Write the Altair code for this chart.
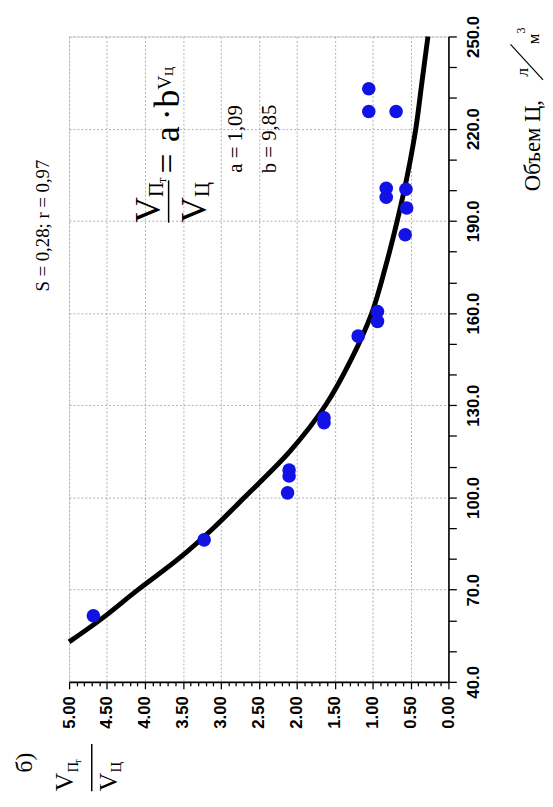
import altair as alt
import pandas as pd

# ---- data ----
pt_volume = [61.5, 86.2, 101.5, 107.0, 108.9, 124.3, 125.9, 152.5, 157.3, 160.5,
             185.5, 194.2, 197.7, 200.3, 200.6, 225.6, 225.6, 233.0]
pt_ratio = [4.68, 3.22, 2.12, 2.10, 2.10, 1.64, 1.64, 1.19, 0.935, 0.935,
            0.57, 0.55, 0.82, 0.56, 0.82, 0.69, 1.05, 1.05]

curve_volume = [53, 60, 70, 80, 90, 100, 115, 130, 145, 160, 175, 190, 205, 220, 235, 250]
curve_ratio = [5.0, 4.6, 4.09, 3.56, 3.10, 2.69, 2.09, 1.62, 1.28, 1.01, 0.83, 0.675,
               0.54, 0.43, 0.35, 0.27]

ratio_ticks = [round(i * 0.1, 1) for i in range(51)]
volume_ticks = list(range(40, 251, 10))

title_text = "S = 0,28; r = 0,97"
panel_label = "б)"
vol_title = "Объем Ц,"
a_text = "a = 1,09"
b_text = "b = 9,85"

SERIF = "Liberation Serif"
SANS = "Liberation Sans"

pts = pd.DataFrame({"volume": pt_volume, "ratio": pt_ratio})
crv = pd.DataFrame({"volume": curve_volume, "ratio": curve_ratio})

major_x = "abs(datum.value*2 - round(datum.value*2)) < 0.001"
major_y = "(datum.value - 40) % 30 == 0"

x_scale = alt.Scale(domain=[0, 5], reverse=True, nice=False, zero=False)
y_scale = alt.Scale(domain=[40, 250], nice=False, zero=False)

x_axis = alt.Axis(
    orient="bottom", values=ratio_ticks, tickCount=len(ratio_ticks) + 5, title=None,
    labelExpr=f"{major_x} ? format(datum.value, '.2f') : ''",
    labelAngle=270, labelAlign="right", labelBaseline="middle",
    labelFont=SANS, labelFontWeight="bold", labelFontSize=17, labelColor="black",
    labelPadding=7, labelOverlap=False, labelBound=False, labelFlush=False,
    tickSize={"condition": {"test": major_x, "value": 7}, "value": 4},
    tickColor="black", tickWidth=1.3,
    domainColor="black", domainWidth=1.6,
    grid=True, gridColor="#b0b0b0", gridDash=[2, 2], gridWidth=1,
    gridOpacity={"condition": {"test": major_x, "value": 1}, "value": 0},
)
y_axis = alt.Axis(
    orient="right", values=volume_ticks, tickCount=len(volume_ticks) + 5, title=None,
    labelExpr=f"{major_y} ? format(datum.value, '.1f') : ''",
    labelAngle=270, labelAlign="center", labelBaseline="top",
    labelFont=SANS, labelFontWeight="bold", labelFontSize=17, labelColor="black",
    labelPadding=10, labelOverlap=False, labelBound=False, labelFlush=False,
    tickSize=8, tickColor="black", tickWidth=1.3,
    domainColor="black", domainWidth=1.6,
    grid=True, gridColor="#b0b0b0", gridDash=[2, 2], gridWidth=1,
    gridOpacity={"condition": {"test": major_y, "value": 1}, "value": 0},
)

dots = alt.Chart(pts).mark_circle(size=190, color="#1212e6", opacity=1).encode(
    x=alt.X("ratio:Q", scale=x_scale, axis=x_axis),
    y=alt.Y("volume:Q", scale=y_scale, axis=y_axis),
)
line = alt.Chart(crv).mark_line(color="black", strokeWidth=5, interpolate="catmull-rom").encode(
    x=alt.X("ratio:Q", scale=x_scale),
    y=alt.Y("volume:Q", scale=y_scale),
    order=alt.Order("volume:Q"),
)


def txt(s, x, y, size, align="left", baseline="alphabetic", font=SERIF, weight="normal"):
    return alt.Chart(pd.DataFrame({"t": [s]})).mark_text(
        angle=270, align=align, baseline=baseline, font=font, fontSize=size,
        fontWeight=weight, color="black"
    ).encode(text="t:N", x=alt.value(x), y=alt.value(y))


def rule(x, y, x2, y2, w=1.5):
    return alt.Chart(pd.DataFrame({"t": [0]})).mark_rule(color="black", strokeWidth=w).encode(
        x=alt.value(x), y=alt.value(y), x2=alt.value(x2), y2=alt.value(y2))


# plot origin is at page (70, 31)
ann = [
    txt(title_text, -26, 192, 19, align="center", baseline="middle"),
    txt(panel_label, -45, 737, 24, align="center", baseline="middle"),
    # axis title fraction (ratio)
    txt("V", 4, 766, 26), txt("П", 9, 747, 15), txt("т", 12, 738, 10),
    rule(23, 718, 23, 766),
    txt("V", 49, 766, 26), txt("Ц", 53, 747, 15),
    # equation
    txt("V", 92, 189, 36), txt("П", 95, 163, 21), txt("т", 98, 149, 13),
    rule(101, 146, 101, 189),
    txt("V", 139, 189, 36), txt("Ц", 142, 163, 21),
    txt("=", 112, 139, 36), txt("a", 112, 107, 36),
    txt("·", 112, 85, 36), txt("b", 112, 72, 36),
    txt("V", 103, 54, 20), txt("Ц", 105, 40, 13),
    txt(a_text, 175, 104, 21, align="center"),
    txt(b_text, 210, 104, 21, align="center"),
    # volume axis title
    txt(vol_title, 478, 157, 23),
    txt("л", 466, 41, 18),
    rule(448, 8, 481, 44, 1.2),
    txt("м", 477, 8, 17), txt("3", 463, -3, 12),
]

chart = alt.layer(line, dots, *ann).properties(
    width=385, height=655,
    padding={"left": 62, "top": 23, "right": 98, "bottom": 113},
    autosize=alt.AutoSizeParams(type="none"),
).configure_view(stroke="#333", strokeWidth=1.5).configure(background="white")

chart.save("out.html", embed_options={"renderer": "svg", "actions": False})
